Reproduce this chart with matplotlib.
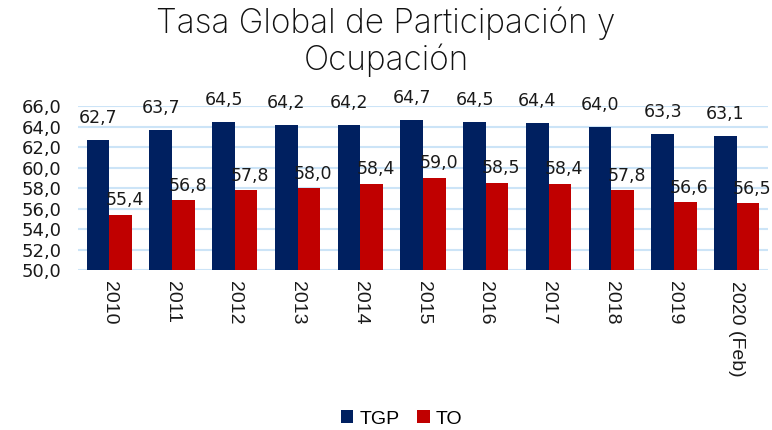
import matplotlib
matplotlib.use("Agg")
import matplotlib.pyplot as plt
import numpy as np

categories = ["2010", "2011", "2012", "2013", "2014", "2015", "2016", "2017", "2018", "2019", "2020 (Feb)"]
tgp = [62.7, 63.7, 64.5, 64.2, 64.2, 64.7, 64.5, 64.4, 64.0, 63.3, 63.1]
to = [55.4, 56.8, 57.8, 58.0, 58.4, 59.0, 58.5, 58.4, 57.8, 56.6, 56.5]
yticks = [50, 52, 54, 56, 58, 60, 62, 64, 66]

navy = "#002060"
red = "#C00000"

fig = plt.figure(figsize=(7.72, 4.30), dpi=100)
ax = fig.add_axes([0.101, 0.372, 0.894, 0.381])

x = np.arange(len(categories))
w = 0.36
b1 = ax.bar(x - w / 2, tgp, width=w, color=navy, label="TGP", zorder=3)
b2 = ax.bar(x + w / 2, to, width=w, color=red, label="TO", zorder=3)

def fmt(v):
    return f"{v:.1f}".replace(".", ",")

for rects, vals, off in ((b1, tgp, (0, 9)), (b2, to, (3, 4))):
    for r, v in zip(rects, vals):
        ax.annotate(fmt(v), (r.get_x() + r.get_width() / 2, v), xytext=off,
                    textcoords="offset points", ha="center", va="bottom",
                    fontsize=12.5, family="DejaVu Sans", color="#1a1a1a", zorder=4,
                    annotation_clip=False)

ax.set_xlim(-0.5, len(categories) - 0.5)
ax.set_ylim(50, 66)
ax.set_yticks(yticks)
ax.set_yticklabels([fmt(v) for v in yticks], fontsize=13, family="DejaVu Sans", color="#1a1a1a")
ax.set_xticks(x)
ax.set_xticklabels(categories, rotation=-90, fontsize=14, family="Liberation Sans", color="#1a1a1a",
                   va="top", ha="center")
ax.tick_params(axis="both", length=0)
ax.tick_params(axis="x", pad=8)
ax.tick_params(axis="y", pad=12)
ax.grid(axis="y", color="#CCE4F7", linewidth=1.5, zorder=0)
for s in ax.spines.values():
    s.set_visible(False)

fig.text(0.5, 0.985, "Tasa Global de Participación y\nOcupación", ha="center", va="top",
         fontsize=24, family="Inter", fontweight="light", linespacing=1.15, color="#111111")

fig.legend(handles=[b1, b2], labels=["TGP", "TO"], loc="lower center", bbox_to_anchor=(0.52, -0.035),
           ncol=2, frameon=False, handlelength=0.65, handleheight=0.65,
           handletextpad=0.3, columnspacing=0.9, prop={"family": "Liberation Sans", "size": 14})

fig.savefig("out.png", dpi=100)
